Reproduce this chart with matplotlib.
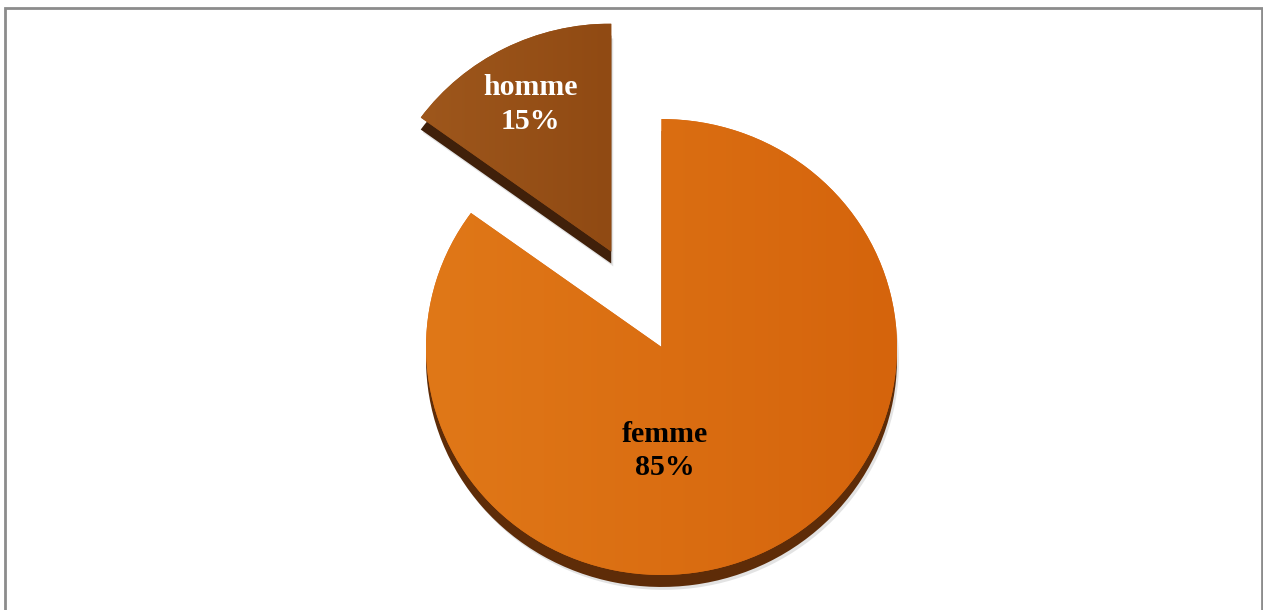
import numpy as np
import matplotlib.pyplot as plt
import matplotlib.colors as mcolors
from matplotlib.patches import Rectangle

labels = ["femme", "homme"]
shares = [85, 15]
colors = ["#DC6C14", "#964F17"]
dark_colors = ["#5E2C08", "#40200A"]
text_colors = ["black", "white"]
explode = [0, 0.47]

W, H = 1263, 610
squash = 0.968  # slight 3D tilt: pie looks a bit flatter than wide

fig = plt.figure(figsize=(W / 100, H / 100), dpi=100)
ax = fig.add_axes([0, 0, 1, 1])

cx, cy, r = 661.5, (H - 347) / squash, 235.5
depth = 12 / squash
expl = [e * r for e in explode]

# soft grey shadow, then dark 3D edge, then top faces
ax.pie(shares, colors=["#C8C8C8", "#C8C8C8"], startangle=90, counterclock=False,
       explode=expl, radius=r, center=(cx + 2, cy - depth - 3), frame=True,
       wedgeprops=dict(linewidth=0, alpha=0.5))
ax.pie(shares, colors=dark_colors, startangle=90, counterclock=False,
       explode=expl, radius=r, center=(cx, cy - depth), frame=True,
       wedgeprops=dict(linewidth=0))
wedges, _ = ax.pie(shares, colors=colors, startangle=90, counterclock=False,
                   explode=expl, radius=r, center=(cx, cy), frame=True,
                   wedgeprops=dict(linewidth=0))

# gradient on top faces
grads = [("#E07818", "#D5640C"), ("#9E571C", "#904A13")]
for w, (c1, c2) in zip(wedges, grads):
    x0, y0, x1, y1 = w.get_path().get_extents(w.get_patch_transform()).extents
    a = np.array(mcolors.to_rgb(c1))
    b = np.array(mcolors.to_rgb(c2))
    t = np.linspace(0, 1, 256)[None, :, None]
    img = np.repeat(a + (b - a) * t, 2, axis=0)
    im = ax.imshow(img, extent=(x0, x1, y0, y1), aspect="auto", zorder=2)
    im.set_clip_path(w)

ax.set_xlim(0, W)
ax.set_ylim(0, H / squash)
ax.set_aspect("auto")
ax.axis("off")

# labels
label_pos = [(-88, 0.455), (118, 0.73)]
for w, lab, s, tc, (ang, d) in zip(wedges, labels, shares, text_colors, label_pos):
    wx, wy = w.center
    tx = wx + d * r * np.cos(np.radians(ang))
    ty = wy + d * r * np.sin(np.radians(ang))
    ax.text(tx, ty, f"{lab}\n{s}%", ha="center", va="center", color=tc,
            fontsize=21.5, fontweight="bold", family="Liberation Serif",
            linespacing=1.3, zorder=5)

fig.patches.append(Rectangle((5 / W, -0.01), 1257 / W, 1 - 8 / H + 0.01,
                             transform=fig.transFigure, fill=False,
                             edgecolor="#8C8C8C", linewidth=2))

fig.savefig("out.png", dpi=100)
